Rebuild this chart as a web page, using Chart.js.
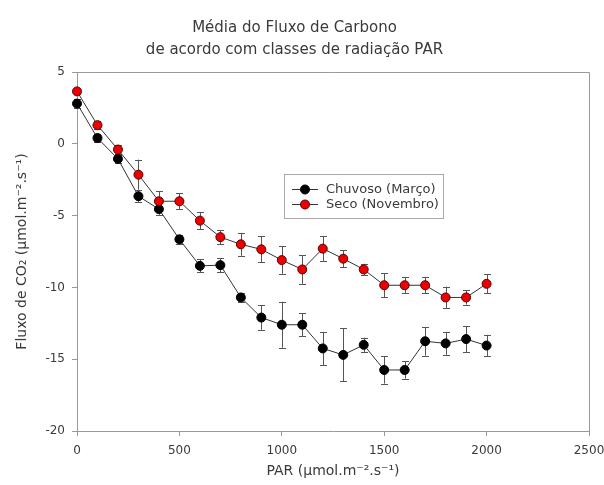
<!DOCTYPE html>
<html lang="pt">
<head>
<meta charset="utf-8">
<title>Média do Fluxo de Carbono</title>
<script src="https://cdn.jsdelivr.net/npm/chart.js@4.4.1/dist/chart.umd.min.js"></script>
<style>
  html, body { margin: 0; padding: 0; background: #fff; }
  #wrap { position: relative; width: 604px; height: 485px; }
</style>
</head>
<body>
<div id="wrap"><canvas id="chart"></canvas></div>
<script>
// Fluxo de CO2 médio por classe de PAR, estação chuvosa x seca.
// Valores (médias e desvio).
var parClasses = [0, 100, 200, 300, 400, 500, 600, 700, 800, 900, 1000,
  1100, 1200, 1300, 1400, 1500, 1600, 1700, 1800, 1900, 2000];

var chuvosoMedia = [2.8, 0.4, -1.05, -3.65, -4.55, -6.65, -8.5, -8.45, -10.7, -12.1, -12.6,
  -12.6, -14.25, -14.7, -14.0, -15.75, -15.75, -13.75, -13.9, -13.6, -14.05];
var chuvosoErro = [0.3, 0.3, 0.3, 0.4, 0.4, 0.3, 0.45, 0.5, 0.3, 0.85, 1.6,
  0.8, 1.15, 1.85, 0.5, 0.95, 0.6, 1.0, 0.8, 0.9, 0.75];

var secoMedia = [3.65, 1.3, -0.4, -2.15, -4.0, -4.0, -5.35, -6.5, -7.0, -7.35, -8.1,
  -8.75, -7.3, -8.0, -8.75, -9.85, -9.85, -9.85, -10.7, -10.7, -9.75];
var secoErro = [0.2, 0.3, 0.3, 1.05, 0.7, 0.55, 0.6, 0.5, 0.8, 0.9, 0.95,
  1.0, 0.85, 0.6, 0.4, 0.85, 0.55, 0.55, 0.75, 0.5, 0.65];

var xTicks = [0, 500, 1000, 1500, 2000, 2500];
var yTicks = [5, 0, -5, -10, -15, -20];

var seriesLabels = ["Chuvoso (Março)", "Seco (Novembro)"];
var titleLines = ["Média do Fluxo de Carbono", "de acordo com classes de radiação PAR"];

var textColor = "#3a3a3a";
var axisColor = "#9a9a9a";
var lineColor = "#333333";
var FONT = "'DejaVu Sans', sans-serif";

function points(means) {
  return parClasses.map(function (x, i) {
    return { x: x, y: means[i] };
  });
}

function plainTick(v) {
  return String(v);
}

// barras de erro desenhadas via escalas do Chart.js, antes dos marcadores
var errorBars = {
  id: "errorBars",
  beforeDatasetsDraw: function (chart) {
    var ctx = chart.ctx;
    var ys = chart.scales.y;
    ctx.save();
    ctx.strokeStyle = "#555555";
    ctx.lineWidth = 1;
    chart.data.datasets.forEach(function (ds, di) {
      var meta = chart.getDatasetMeta(di);
      meta.data.forEach(function (pt, i) {
        var v = ds.data[i].y;
        var e = ds.errors[i];
        var top = ys.getPixelForValue(v + e);
        var bot = ys.getPixelForValue(v - e);
        var x = Math.round(pt.x) + 0.5;
        ctx.beginPath();
        ctx.moveTo(x, top);
        ctx.lineTo(x, bot);
        ctx.moveTo(x - 3.5, Math.round(top) + 0.5);
        ctx.lineTo(x + 3.5, Math.round(top) + 0.5);
        ctx.moveTo(x - 3.5, Math.round(bot) + 0.5);
        ctx.lineTo(x + 3.5, Math.round(bot) + 0.5);
        ctx.stroke();
      });
    });
    ctx.restore();
  }
};

// moldura superior/direita + legenda em caixa dentro da área do gráfico
var frameLegend = {
  id: "frameLegend",
  afterDatasetsDraw: function (chart) {
    var ctx = chart.ctx;
    var a = chart.chartArea;
    ctx.save();
    ctx.strokeStyle = axisColor;
    ctx.lineWidth = 1;
    ctx.beginPath();
    ctx.moveTo(Math.round(a.left), Math.round(a.top) + 0.5);
    ctx.lineTo(Math.round(a.right) + 0.5, Math.round(a.top) + 0.5);
    ctx.lineTo(Math.round(a.right) + 0.5, Math.round(a.bottom));
    ctx.stroke();

    var bx = 284, by = 174, bw = 159, bh = 44;
    ctx.strokeStyle = "#aaaaaa";
    ctx.strokeRect(bx + 0.5, by + 0.5, bw, bh);
    ctx.font = "13px " + FONT;
    ctx.textBaseline = "middle";
    ctx.textAlign = "left";
    chart.data.datasets.forEach(function (ds, i) {
      var y = by + 15 + i * 15;
      ctx.strokeStyle = lineColor;
      ctx.beginPath();
      ctx.moveTo(bx + 8, y + 0.5);
      ctx.lineTo(bx + 34, y + 0.5);
      ctx.stroke();
      ctx.beginPath();
      ctx.arc(bx + 21, y + 0.5, 4.5, 0, Math.PI * 2);
      ctx.fillStyle = ds.pointBackgroundColor;
      ctx.fill();
      ctx.strokeStyle = ds.pointBorderColor;
      ctx.stroke();
      ctx.fillStyle = textColor;
      ctx.fillText(ds.label, bx + 42, y + 1);
    });
    ctx.restore();
  }
};

new Chart(document.getElementById("chart"), {
  type: "line",
  data: {
    datasets: [
      {
        label: seriesLabels[0],
        data: points(chuvosoMedia),
        errors: chuvosoErro,
        borderColor: lineColor,
        borderWidth: 1,
        pointRadius: 4.5,
        pointBackgroundColor: "#000000",
        pointBorderColor: "#000000",
        pointBorderWidth: 1,
        tension: 0,
        clip: false,
        order: 2
      },
      {
        label: seriesLabels[1],
        data: points(secoMedia),
        errors: secoErro,
        borderColor: lineColor,
        borderWidth: 1,
        pointRadius: 4.5,
        pointBackgroundColor: "#ee0000",
        pointBorderColor: "#550000",
        pointBorderWidth: 1,
        tension: 0,
        clip: false,
        order: 1
      }
    ]
  },
  options: {
    responsive: true,
    maintainAspectRatio: false,
    animation: false,
    layout: { padding: { left: 0, right: 15, top: 0, bottom: 0 } },
    plugins: {
      legend: { display: false },
      tooltip: { enabled: false },
      title: {
        display: true,
        text: titleLines,
        color: textColor,
        font: { family: FONT, size: 15, weight: "normal", lineHeight: "22px" },
        padding: { top: 17, bottom: 11 }
      }
    },
    scales: {
      x: {
        type: "linear",
        min: 0,
        max: 2500,
        afterFit: function (s) {
          s.height = 54;
          // o rótulo 2500 pode encostar na borda, como no original
          s.paddingLeft = 0;
          s.paddingRight = 0;
        },
        afterBuildTicks: function (s) {
          s.ticks = xTicks.map(function (v) { return { value: v }; });
        },
        grid: { display: true, drawOnChartArea: false, drawTicks: true, tickLength: 5, color: axisColor },
        border: { display: true, color: axisColor },
        ticks: { color: textColor, padding: 8, maxRotation: 0, callback: plainTick, font: { family: FONT, size: 12 } },
        title: {
          display: true,
          text: "PAR (µmol.m⁻².s⁻¹)",
          color: textColor,
          font: { family: FONT, size: 14 },
          padding: { top: 0, bottom: 5 }
        }
      },
      y: {
        type: "linear",
        min: -20,
        max: 5,
        afterFit: function (s) {
          s.width = 77;
          s.paddingTop = 0;
          s.paddingBottom = 0;
        },
        afterBuildTicks: function (s) {
          s.ticks = yTicks.map(function (v) { return { value: v }; });
        },
        grid: { display: true, drawOnChartArea: false, drawTicks: true, tickLength: 5, color: axisColor },
        border: { display: true, color: axisColor },
        ticks: { color: textColor, padding: 7, callback: plainTick, font: { family: FONT, size: 12 } },
        title: {
          display: true,
          text: "Fluxo de CO₂ (µmol.m⁻².s⁻¹)",
          color: textColor,
          font: { family: FONT, size: 14 },
          padding: { top: 14, bottom: 0 }
        }
      }
    }
  },
  plugins: [errorBars, frameLegend]
});
</script>
</body>
</html>
